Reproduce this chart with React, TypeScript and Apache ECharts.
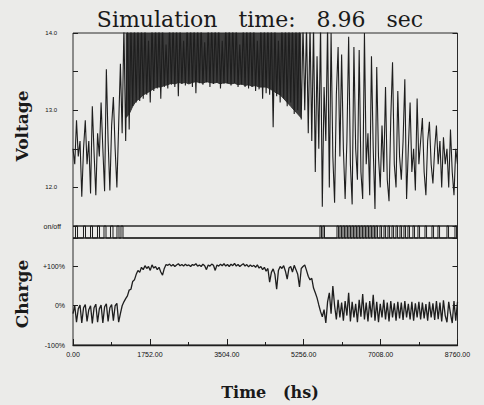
import React, { useEffect, useRef } from "react";
import * as echarts from "echarts";

// time step between samples (hours)
const STEP = 40;
const X_MAX = 8760;
const X_INTERVAL = 1752;

// battery voltage (V), one sample every STEP hours (values above 14.0 are clipped by the plot)
const voltage: number[] = [
  12.5, 12.3, 12.87, 12.4, 12.6, 11.88, 12.5, 12.87, 12.3, 12.6,
  11.92, 13.05, 12.45, 11.9, 12.7, 12.4, 13.1, 12.5, 11.95, 13.53,
  12.6, 11.96, 12.8, 13.17, 12.5, 12.0, 12.8, 13.6, 12.7, 14.1,
  12.6, 14.1, 12.75, 14.1, 13.05, 14.1, 13.1, 14.1,
  13.12, 14.1, 13.15, 14.1, 13.2, 13.9, 13.1, 14.1, 13.25, 14.1,
  13.28, 14.1, 13.15, 14.1, 13.3, 13.85, 13.28, 14.1, 13.33, 14.1,
  13.3, 14.1, 13.18, 14.1, 13.34, 13.9, 13.32, 14.1, 13.35, 14.1,
  13.3, 14.1, 13.22, 14.1, 13.35, 14.1, 13.33, 13.88, 13.36, 14.1,
  13.3, 14.1, 13.34, 14.1, 13.36, 14.1, 13.28, 13.9, 13.34, 14.1,
  13.35, 14.1, 13.32, 14.1, 13.35, 14.1, 13.3, 13.85, 13.33, 14.1,
  13.3, 14.1, 13.28, 14.1, 13.3, 14.1, 13.25, 13.9, 13.27, 14.1,
  13.15, 14.1, 13.22, 14.1, 13.2, 14.1, 12.78, 14.1, 13.18, 13.9,
  13.1, 14.1, 13.15, 14.1, 13.05, 14.1, 13.1, 14.1, 12.95, 14.1,
  13.0,
  14.1, 12.88, 14.1, 13.0, 14.1, 12.7, 14.1, 12.6, 14.1, 12.2,
  13.7, 12.5, 14.1, 11.75, 13.3, 12.6, 14.1, 12.0, 14.0, 12.4,
  11.8, 13.2, 13.82,
  12.4, 13.72, 12.5, 11.85, 12.6, 13.95, 12.3, 11.78, 13.82, 12.5,
  12.1, 13.78, 12.2, 11.85, 14.0, 12.3, 12.7, 11.9, 13.7, 12.5,
  11.72, 13.56, 12.4, 12.0, 12.8, 12.2, 13.3, 12.1, 11.82, 12.9,
  13.62, 12.3, 12.0, 13.25, 12.4, 12.1, 12.6, 13.4, 11.85, 12.5,
  13.1, 12.2, 12.5, 11.96, 13.15, 12.3, 12.6, 12.9, 12.2, 11.9,
  12.6, 12.85, 12.3, 12.05, 12.5, 12.8, 12.3, 12.6, 12.0, 12.65,
  12.3, 12.5, 12.0, 12.75, 12.2, 11.9, 12.5, 12.3,
];

// lower edge of the solid, densely switching voltage band (V), every 80 h from 1200 h
const BAND_START = 1200;
const BAND_STEP = 80;
const bandFloor: number[] = [
  12.9, 12.95, 13.05, 13.12, 13.15, 13.2, 13.22, 13.25, 13.28, 13.3,
  13.3, 13.32, 13.33, 13.35, 13.34, 13.36, 13.35, 13.36, 13.34, 13.36,
  13.37, 13.36, 13.35, 13.37, 13.36, 13.35, 13.36, 13.34, 13.36, 13.35,
  13.34, 13.35, 13.33, 13.34, 13.32, 13.33, 13.31, 13.32, 13.3, 13.3,
  13.3, 13.28, 13.25, 13.22, 13.2, 13.15, 13.1, 13.05, 13.0, 12.95,
  12.9,
];

// state of charge (%), one sample every STEP hours
const charge: number[] = [
  -20, 0, -42, -8, 2, -44, -5, 3, -40, -10, 0, -45, -5, 4, -42, -8, 2, -44, -3, 5,
  -40, -5, 3, -38, 0, 6, -42, -20,
  0, 10, 18, 25, 40, 42, 62, 66, 80, 90, 85, 98, 92, 102, 95, 100, 90, 104, 96, 100,
  92, 98, 86, 78, 95, 105,
  103, 106, 101, 105, 100, 104, 107, 102, 105, 101, 106, 102, 104, 100, 105, 103, 107, 101, 104, 100,
  106, 102, 92, 104, 101, 106, 103, 90, 104, 101, 106, 102, 107, 101, 105, 100, 106, 102, 108, 101,
  105, 100, 104, 107, 101, 105, 99, 104, 100, 103, 98,
  104, 96, 100, 92, 98, 88, 95, 60, 85, 94, 80, 42, 90, 100, 95, 102, 88, 68, 96, 100,
  86, 103, 92, 80, 48, 95, 100, 104, 90, 75, 66, 70, 45, 33, 20, 2, -15, -28, -10, -44,
  10, 33, -20, 50, 0, -35, 15,
  -30, 8, -38, 12, -25, 33, -40, 10, -30, 5, -42, 15, -28, 30, -35, 8, -40, 12, -30, 28,
  -38, 10, -42, 5, -30, 15, -35, 8, -40, 12, -30, 6, -38, 10, -32, 8, -36, 12, -30, 5,
  -35, 10, -38, 6, -30, 10, -35, 8, -32, 4, -38, 10, -30, 6, -36, 12, -34, 8, -40, 14,
  -25, -42, 10, -20, -44, 12, -38, 10,
];

// on/off switching pulses: [start hour, end hour]
const onOffPulses: [number, number][] = [
  [57, 103], [239, 285], [399, 444], [558, 604], [706, 752], [854, 911], [1002, 1048], [1093, 1139],
  [5627, 5662], [5695, 5730], [6014, 6050], [6082, 6118], [6151, 6187], [6219, 6255], [6287, 6323],
  [6356, 6392], [6424, 6460], [6492, 6528], [6561, 6597], [6629, 6665], [6697, 6733], [6766, 6802],
  [6834, 6870], [6902, 6938], [6993, 7029], [7085, 7121], [7176, 7212], [7267, 7303], [7358, 7394],
  [7449, 7485], [7540, 7576], [7631, 7667], [7745, 7781], [7859, 7895], [8019, 8055], [8178, 8214],
  [8315, 8351], [8520, 8556], [8702, 8738],
];

const voltageTickLabels: Record<string, string> = { "14": "14.0", "13": "13.0", "12": "12.0" };
const chargeTickLabels: Record<string, string> = { "100": "+100%", "0": "0%", "-100": "-100%" };

const INK = "#1e1e1e";
const LABEL_FONT = "Liberation Sans";
const TITLE_FONT = "DejaVu Serif";

export default function App() {
  const ref = useRef<HTMLDivElement>(null);

  useEffect(() => {
    if (!ref.current) return;
    const chart = echarts.init(ref.current, null, { renderer: "svg" });

    const voltageData = voltage.map((v, i) => [i * STEP, v]);
    const bandData = bandFloor.map((v, i) => [BAND_START + i * BAND_STEP, v]);
    const chargeData = charge.map((v, i) => [i * STEP, v]);
    const onOffData: number[][] = [[0, 0]];
    onOffPulses.forEach(([s, e]) => {
      onOffData.push([s, 0], [s, 1], [e, 1], [e, 0]);
    });
    onOffData.push([X_MAX, 0]);

    const gridBase = {
      left: 73,
      right: 26.5,
      show: true,
      borderColor: "#2a2a2a",
      borderWidth: 1,
      backgroundColor: "transparent",
    };

    const hiddenX = (gridIndex: number) => ({
      type: "value",
      gridIndex,
      min: 0,
      max: X_MAX,
      interval: X_INTERVAL,
      show: false,
      splitLine: { show: false },
    });

    const option: any = {
      animation: false,
      backgroundColor: "#ebebe9",
      grid: [
        { ...gridBase, top: 33, height: 193 },
        { ...gridBase, top: 226, height: 12 },
        { ...gridBase, top: 238, height: 107 },
      ],
      xAxis: [
        hiddenX(0),
        hiddenX(1),
        {
          type: "value",
          gridIndex: 2,
          min: 0,
          max: X_MAX,
          interval: X_INTERVAL,
          axisLine: { show: true, onZero: false, lineStyle: { color: INK, width: 1.3 } },
          axisTick: { show: true, inside: true, length: 6, lineStyle: { color: INK } },
          minorTick: { show: true, splitNumber: 2, length: 3, lineStyle: { color: INK } },
          splitLine: { show: false },
          minorSplitLine: { show: false },
          axisLabel: {
            show: true,
            showMinLabel: true,
            showMaxLabel: true,
            margin: 6,
            fontSize: 7,
            fontFamily: LABEL_FONT,
            color: "#111",
            formatter: (v: number) => v.toFixed(2),
          },
        },
      ],
      yAxis: [
        {
          type: "value",
          gridIndex: 0,
          min: 11.5,
          max: 14,
          interval: 0.5,
          axisLine: { show: false },
          axisTick: { show: true, inside: true, length: 5, lineStyle: { color: INK } },
          splitLine: { show: false },
          axisLabel: {
            margin: 16,
            fontSize: 6,
            fontFamily: LABEL_FONT,
            color: "#111",
            formatter: (v: number) => voltageTickLabels[String(v)] || "",
          },
        },
        {
          type: "value",
          gridIndex: 0,
          position: "right",
          min: 11.5,
          max: 14,
          interval: 0.5,
          axisLine: { show: false },
          axisTick: { show: true, inside: true, length: 5, lineStyle: { color: INK } },
          splitLine: { show: false },
          axisLabel: { show: false },
        },
        {
          type: "value",
          gridIndex: 1,
          min: 0,
          max: 1,
          interval: 1,
          axisLine: { show: false },
          axisTick: { show: false },
          splitLine: { show: false },
          axisLabel: {
            margin: 12,
            fontSize: 7,
            fontFamily: LABEL_FONT,
            color: "#111",
            formatter: (v: number) => (v === 1 ? "on/off" : ""),
          },
        },
        {
          type: "value",
          gridIndex: 2,
          min: -100,
          max: 172.6,
          interval: 100,
          axisLine: { show: false },
          axisTick: { show: true, inside: true, length: 5, lineStyle: { color: INK } },
          splitLine: { show: false },
          axisLabel: {
            margin: 8,
            fontSize: 7,
            fontFamily: LABEL_FONT,
            color: "#111",
            formatter: (v: number) => chargeTickLabels[String(v)] || "",
          },
        },
        {
          type: "value",
          gridIndex: 2,
          position: "right",
          min: -100,
          max: 172.6,
          interval: 100,
          axisLine: { show: false },
          axisTick: { show: true, inside: true, length: 5, lineStyle: { color: INK } },
          splitLine: { show: false },
          axisLabel: { show: false },
        },
      ],
      series: [
        {
          name: "Voltage band",
          type: "line",
          xAxisIndex: 0,
          yAxisIndex: 0,
          data: bandData,
          symbol: "none",
          clip: true,
          lineStyle: { color: "#333", width: 1 },
          areaStyle: { origin: "end", color: "#2e2e2e", opacity: 0.92 },
        },
        {
          name: "Voltage",
          type: "line",
          xAxisIndex: 0,
          yAxisIndex: 0,
          data: voltageData,
          symbol: "none",
          clip: true,
          lineStyle: { color: INK, width: 1.1 },
        },
        {
          name: "on/off",
          type: "line",
          xAxisIndex: 1,
          yAxisIndex: 2,
          data: onOffData,
          symbol: "none",
          clip: false,
          lineStyle: { color: INK, width: 1 },
        },
        {
          name: "Charge",
          type: "line",
          xAxisIndex: 2,
          yAxisIndex: 3,
          data: chargeData,
          symbol: "none",
          clip: true,
          lineStyle: { color: INK, width: 1.3 },
        },
      ],
      graphic: [
        {
          type: "text",
          x: 260,
          y: 19,
          style: {
            text: "Simulation\u00a0\u00a0\u00a0time:\u00a0\u00a0\u00a08.96\u00a0\u00a0\u00a0sec",
            fontFamily: TITLE_FONT,
            fontSize: 22,
            fill: "#1a1a1a",
            textAlign: "center",
            textVerticalAlign: "middle",
          },
        },
        {
          type: "text",
          x: 22,
          y: 126,
          rotation: Math.PI / 2,
          style: {
            text: "Voltage",
            fontFamily: TITLE_FONT,
            fontWeight: "bold",
            fontSize: 17,
            fill: "#1a1a1a",
            textAlign: "center",
            textVerticalAlign: "middle",
          },
        },
        {
          type: "text",
          x: 22,
          y: 294,
          rotation: Math.PI / 2,
          style: {
            text: "Charge",
            fontFamily: TITLE_FONT,
            fontWeight: "bold",
            fontSize: 17,
            fill: "#1a1a1a",
            textAlign: "center",
            textVerticalAlign: "middle",
          },
        },
        {
          type: "text",
          x: 270,
          y: 392,
          style: {
            text: "Time\u00a0\u00a0\u00a0(hs)",
            fontFamily: TITLE_FONT,
            fontWeight: "bold",
            fontSize: 16,
            fill: "#1a1a1a",
            textAlign: "center",
            textVerticalAlign: "middle",
          },
        },
      ],
    };

    chart.setOption(option);
    return () => chart.dispose();
  }, []);

  return (
    <div
      ref={ref}
      style={{ position: "absolute", left: 0, top: 0, width: 484, height: 405 }}
    />
  );
}
